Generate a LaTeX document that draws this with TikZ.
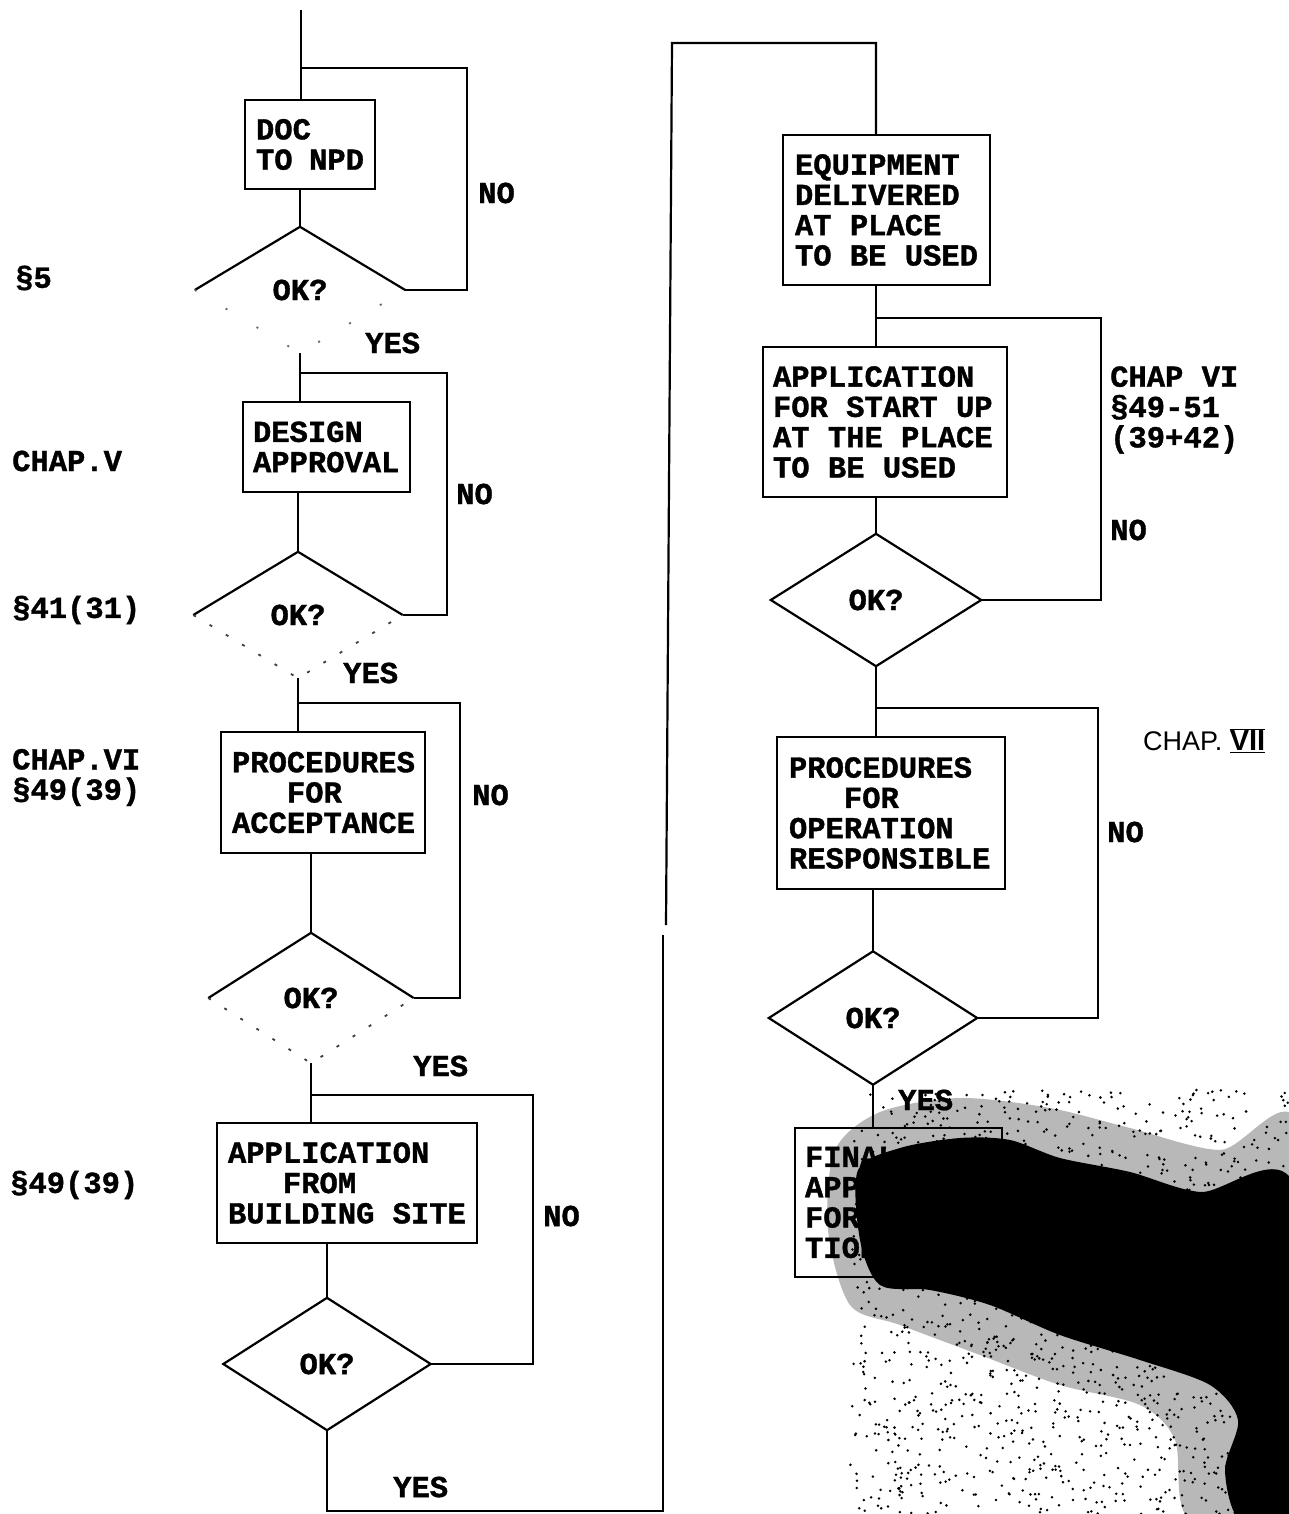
\documentclass[tikz,border=0pt]{standalone}
\usepackage{fontspec}
\newfontfamily\mono{Liberation Mono}[BoldFeatures={FakeBold=1.2}]
\newfontfamily\hand{Liberation Sans}
\usetikzlibrary{shapes.geometric,calc}
\newcommand\txt{\mono\bfseries\fontsize{30.5}{30.3}\selectfont}
\tikzset{
  ln/.style={line width=2.2pt, line join=miter},
  faint/.style={line width=1.8pt, black!75, dash pattern=on 3pt off 16pt},
  vfaint/.style={line width=1.8pt, black!60, dash pattern=on 2pt off 34pt},
  box/.style={draw, line width=2.2pt, rectangle, inner sep=0pt, align=flush left, font=\txt},
  dec/.style={diamond, inner sep=0pt, font=\txt},
  lab/.style={font=\txt, anchor=west, inner sep=0pt, align=left},
}
\begin{document}
\begin{tikzpicture}[x=1pt,y=-1pt]
\useasboundingbox (0,0) rectangle (1288,1514);
\fill[white] (0,0) rectangle (1288,1514);

% ---------- left column boxes ----------
\node[box, minimum width=130pt, minimum height=89pt, text width=108pt] (b1) at (310,144.5) {DOC\\TO NPD};
\node[box, minimum width=167pt, minimum height=90pt, text width=147pt] (b2) at (326.5,447) {DESIGN\\APPROVAL};
\node[box, minimum width=204pt, minimum height=121pt, text width=182pt] (b3) at (323,792.5) {PROCEDURES\\\phantom{XXX}FOR\\ACCEPTANCE};
\node[box, minimum width=260pt, minimum height=120pt, text width=238pt] (b4) at (347,1183) {APPLICATION\\\phantom{XXX}FROM\\BUILDING SITE};

% ---------- right column boxes ----------
\node[box, minimum width=207pt, minimum height=150pt, text width=183pt] (b5) at (886.5,210) {EQUIPMENT\\DELIVERED\\AT PLACE\\TO BE USED};
\node[box, minimum width=244pt, minimum height=150pt, text width=224pt] (b6) at (885,422) {APPLICATION\\FOR START UP\\AT THE PLACE\\TO BE USED};
\node[box, minimum width=228pt, minimum height=152pt, text width=204pt] (b7) at (891,813) {PROCEDURES\\\phantom{XXX}FOR\\OPERATION\\RESPONSIBLE};
\node[box, minimum width=207pt, minimum height=149pt, text width=187pt] (b8) at (898.5,1202.5) {FINAL\\APPROVAL\\FOR OPERA-\\TION};

% ---------- decisions ----------
\node[dec, minimum width=210pt, minimum height=126pt] (d1) at (300,290) {OK?};
\node[dec, minimum width=209pt, minimum height=126pt] (d2) at (298,615) {OK?};
\node[dec, minimum width=205pt, minimum height=130pt] (d3) at (311,998) {OK?};
\node[dec, minimum width=207pt, minimum height=132pt] (d4) at (327,1364) {OK?};
\node[dec, minimum width=210pt, minimum height=132pt] (d5) at (876,600) {OK?};
\node[dec, minimum width=208pt, minimum height=133pt] (d6) at (873,1018) {OK?};

\draw[ln] (d1.west) -- (d1.north) -- (d1.east);
\draw[vfaint] (d1.west) -- (d1.south) -- (d1.east);
\draw[ln] (d2.west) -- (d2.north) -- (d2.east);
\draw[faint] (d2.west) -- (d2.south) -- (d2.east);
\draw[ln] (d3.west) -- (d3.north) -- (d3.east);
\draw[faint] (d3.west) -- (d3.south) -- (d3.east);
\draw[ln] (d4.west) -- (d4.north) -- (d4.east) -- (d4.south) -- cycle;
\draw[ln] (d5.west) -- (d5.north) -- (d5.east) -- (d5.south) -- cycle;
\draw[ln] (d6.west) -- (d6.north) -- (d6.east) -- (d6.south) -- cycle;

% ---------- coordinates ----------
\coordinate (top) at (301,10);
\coordinate (j1) at (301,68);
\coordinate (j2) at (300,373);
\coordinate (j3) at (298,703);
\coordinate (j4) at (311,1095);
\coordinate (bl) at (327,1511);
\coordinate (br) at (663,1511);
\coordinate (g1) at (663,935);
\coordinate (g2) at (666,925);
\coordinate (ret) at (672,43);
\coordinate (j5) at (876,318);
\coordinate (j6) at (876,708);

% ---------- left connectors ----------
\draw[ln] (top) -- (top |- b1.north);
\draw[ln] (d1.north |- b1.south) -- (d1.north);
\draw[ln] (d1.east) -| (467,68) -- (j1);
\draw[ln] (d1.south) -- (d1.south |- b2.north);
\draw[ln] (d2.east) -| (447,373) -- (j2);
\draw[ln] (d2.north |- b2.south) -- (d2.north);
\draw[ln] (d2.south) -- (d2.south |- b3.north);
\draw[ln] (d3.east) -| (460,703) -- (j3);
\draw[ln] (d3.north |- b3.south) -- (d3.north);
\draw[ln] (d3.south) -- (d3.south |- b4.north);
\draw[ln] (d4.east) -| (533,1095) -- (j4);
\draw[ln] (d4.north |- b4.south) -- (d4.north);
\draw[ln] (d4.south) -- (bl) -- (br) -- (g1);

% ---------- right connectors ----------
\draw[ln] (g2) -- (ret) -| (b5.north -| d5.north);
\draw[ln] (b5.south -| d5.north) -- (b6.north -| d5.north);
\draw[ln] (d5.east) -| (1101,318) -- (j5);
\draw[ln] (b6.south -| d5.north) -- (d5.north);
\draw[ln] (d5.south) -- (b7.north -| d5.south);
\draw[ln] (d6.east) -| (1098,708) -- (j6);
\draw[ln] (b7.south -| d6.north) -- (d6.north);
\draw[ln] (d6.south) -- (b8.north -| d6.south);

% ---------- YES / NO labels ----------
\node[lab] (n1) at (478,193) {NO};
\node[lab] (y1) at (365,343) {YES};
\node[lab] (n2) at (456,494) {NO};
\node[lab] (y2) at (343,673) {YES};
\node[lab] (n3) at (472,795) {NO};
\node[lab] (y3) at (413,1066) {YES};
\node[lab] (n4) at (543,1216) {NO};
\node[lab] (y4) at (393,1487) {YES};
\node[lab] (n5) at (1110,530) {NO};
\node[lab] (n6) at (1107,832) {NO};
\node[lab] (y5) at (898,1100) {YES};

% ---------- side references ----------
\node[lab] (s5) at (15,278) {§5};
\node[lab] (cv) at (12,461) {CHAP.V};
\node[lab] (s41) at (12,610) {§41(31)};
\node[lab] (cvi) at (12,777.5) {CHAP.VI\\§49(39)};
\node[lab] (s49) at (10,1185) {§49(39)};
\node[lab] (cvir) at (1110,410) {CHAP VI\\§49-51\\(39+42)};
\node[anchor=west, inner sep=0pt, font=\hand\fontsize{27}{27}\selectfont] (cvii) at (1143,741)
  {CHAP. $\overline{\underline{\hbox{\hand\bfseries\fontsize{29}{29}\selectfont VII}}}$};

% ---------- scan smudge ----------
\fill[black, opacity=0.28] plot[smooth cycle] coordinates {(835,1150) (880,1112) (960,1098) (1050,1108) (1130,1128) (1220,1150) (1300,1130) (1300,1520) (1190,1520) (1175,1440) (1140,1405) (1060,1385) (980,1355) (900,1325) (850,1305) (828,1230)};
\fill[black] plot[smooth cycle] coordinates {(858,1170) (900,1148) (960,1138) (1010,1140) (1060,1158) (1130,1172) (1200,1192) (1295,1188) (1295,1520) (1240,1520) (1225,1470) (1238,1420) (1210,1385) (1140,1360) (1060,1335) (990,1305) (930,1290) (880,1285) (860,1240)};
\pgfmathsetseed{7}
\foreach \i in {1,...,1400} {
  \pgfmathsetmacro\px{1069+219*rand}
  \pgfmathsetmacro\py{1302+212*rand}
  \fill (\px,\py) circle (1.4);
}
\end{tikzpicture}
\end{document}
